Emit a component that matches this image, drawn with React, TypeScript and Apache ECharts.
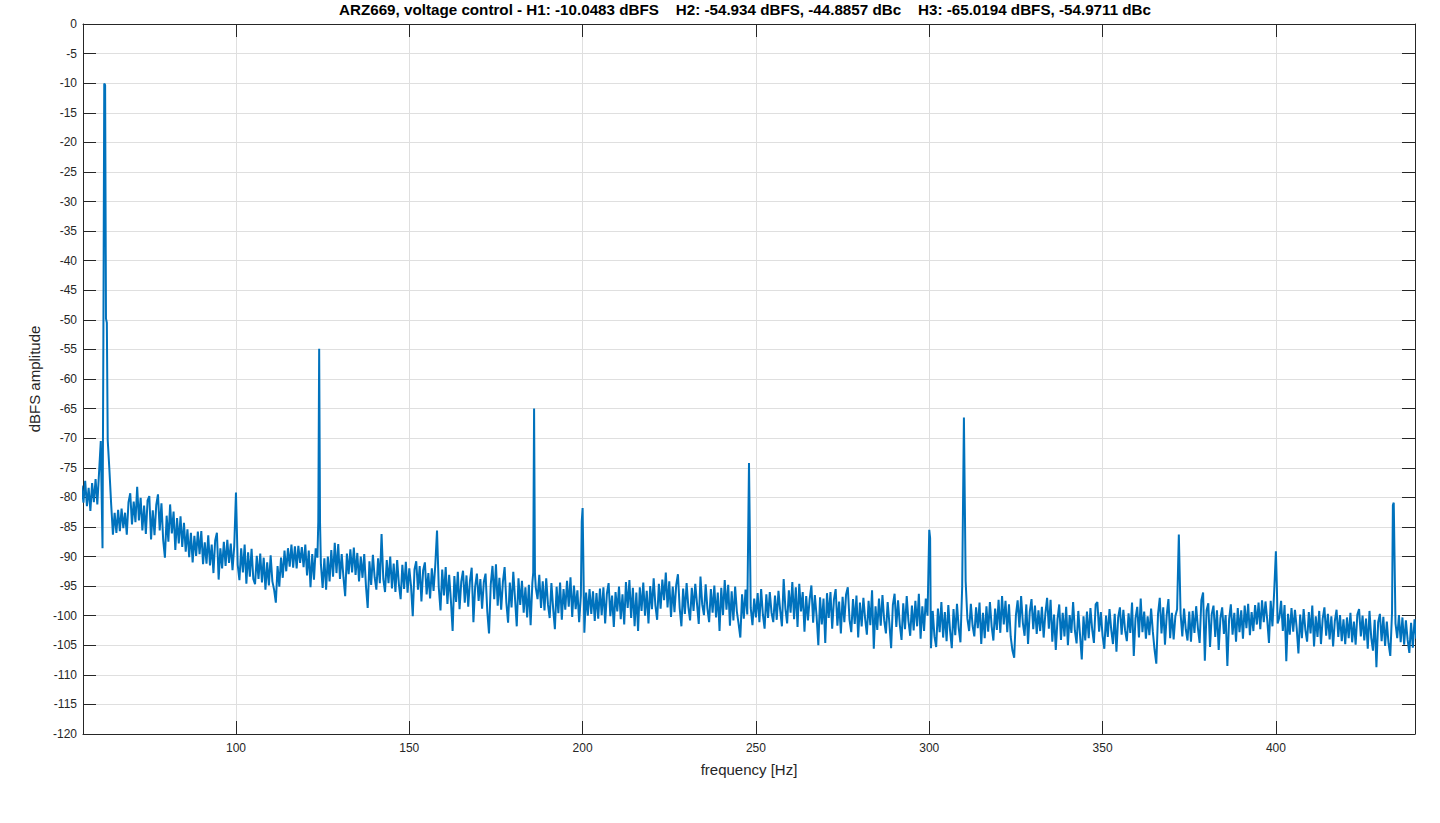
import { useEffect, useRef } from "react";
import * as echarts from "echarts";

const TITLE =
  "ARZ669, voltage control - H1: -10.0483 dBFS\u00a0\u00a0\u00a0\u00a0H2: -54.934 dBFS, -44.8857 dBc\u00a0\u00a0\u00a0\u00a0H3: -65.0194 dBFS, -54.9711 dBc";
const X_LABEL = "frequency [Hz]";
const Y_LABEL = "dBFS amplitude";

const FREQ_MIN = 55.87;
const FREQ_MAX = 440.13;
const DB_MIN = -120;
const DB_MAX = 0;
const DB_STEP = 5;
const xTickValues = [100, 150, 200, 250, 300, 350, 400];

// Spectrum: each row covers 10 Hz in 0.5 Hz bins,
// row r starts at ROW_START + r * ROW_SPAN.
const ROW_START = 55.5;
const ROW_SPAN = 10;
const BIN = 0.5;
const spectrumRows: number[][] = [
  [-78.0, -80.9, -77.2, -81.5, -78.4, -82.3, -77.6, -80.8, -76.9, -81.2, -75.8, -70.5, -88.6, -10.05, -49.8, -70.3, -75.5, -81.2, -86.3, -82.6], // 55.5
  [-86.0, -82.1, -85.7, -81.9, -85.2, -82.6, -86.3, -80.8, -79.3, -84.6, -80.7, -84.2, -78.2, -83.9, -80.1, -85.6, -81.4, -86.2, -80.5, -79.8], // 65.5
  [-87.1, -82.2, -86.4, -81.3, -79.5, -85.6, -81.0, -87.2, -90.2, -83.1, -87.5, -81.2, -86.1, -82.4, -88.9, -83.5, -87.8, -83.2, -88.4, -84.3], // 75.5
  [-89.2, -85.4, -90.1, -86.0, -91.0, -86.5, -89.9, -85.8, -89.6, -85.7, -91.3, -87.6, -91.2, -86.4, -91.5, -88.0, -92.8, -87.3, -86.0, -93.9], // 85.5
  [-88.6, -92.0, -87.5, -91.6, -87.2, -91.1, -87.8, -92.3, -88.2, -79.2, -91.4, -94.0, -88.6, -92.7, -88.0, -94.6, -89.3, -93.4, -88.7, -93.8], // 95.5
  [-94.7, -89.9, -93.8, -89.5, -94.4, -90.2, -95.6, -91.0, -94.9, -89.8, -94.2, -95.6, -97.8, -91.6, -95.1, -90.2, -93.6, -89.0, -92.5, -88.6], // 105.5
  [-91.7, -88.0, -91.9, -88.3, -92.0, -88.2, -91.1, -88.4, -91.8, -88.0, -93.2, -89.0, -95.2, -89.6, -93.9, -88.6, -90.2, -54.9, -91.3, -95.3], // 115.5
  [-90.3, -95.6, -90.0, -94.2, -88.9, -93.4, -87.7, -92.8, -87.9, -93.8, -89.6, -93.5, -96.7, -89.5, -93.0, -88.8, -92.7, -88.5, -93.1, -89.4], // 125.5
  [-94.2, -90.0, -93.6, -89.6, -95.0, -98.7, -90.8, -94.8, -89.7, -93.5, -95.6, -90.3, -94.5, -86.2, -93.8, -96.0, -90.6, -94.5, -90.0, -95.4], // 135.5
  [-91.2, -96.0, -90.6, -94.7, -97.2, -91.4, -95.5, -90.9, -96.1, -92.0, -95.0, -100.1, -92.2, -90.8, -95.6, -91.6, -97.6, -92.3, -91.0, -96.4], // 145.5
  [-92.8, -97.1, -92.0, -95.8, -91.4, -85.6, -95.2, -99.1, -92.2, -96.6, -91.8, -98.0, -93.1, -97.4, -102.6, -93.3, -97.7, -92.6, -98.9, -94.2], // 155.5
  [-92.4, -97.8, -93.2, -98.5, -94.1, -91.9, -101.1, -95.1, -92.9, -97.5, -93.8, -98.8, -94.3, -92.9, -99.3, -103.0, -94.7, -91.6, -97.2, -91.3], // 165.5
  [-98.3, -93.6, -99.0, -94.3, -91.8, -97.8, -101.2, -94.4, -98.6, -92.6, -97.1, -101.8, -93.7, -98.2, -94.1, -99.5, -95.2, -100.3, -94.8, -101.6], // 175.5
  [-94.5, -65.0, -95.3, -97.2, -93.1, -98.7, -94.2, -99.1, -93.7, -98.1, -100.4, -94.5, -98.8, -102.3, -95.1, -99.6, -94.4, -100.7, -95.5, -99.0], // 185.5
  [-94.1, -98.5, -93.5, -100.2, -94.9, -98.9, -95.7, -101.1, -96.6, -81.8, -102.9, -96.1, -100.0, -95.5, -99.7, -95.9, -100.9, -96.2, -100.5, -95.4], // 195.5
  [-99.9, -95.2, -101.3, -96.3, -94.5, -100.1, -96.6, -101.9, -96.0, -99.3, -95.1, -100.6, -96.4, -101.5, -94.3, -98.7, -94.0, -100.4, -95.3, -101.8], // 205.5
  [-96.1, -102.6, -95.2, -99.2, -94.4, -100.0, -95.8, -101.3, -95.0, -98.9, -93.7, -98.3, -100.7, -94.6, -98.8, -93.9, -97.4, -92.7, -98.6, -94.2], // 215.5
  [-100.2, -95.1, -99.4, -94.8, -93.0, -98.7, -101.8, -95.4, -99.7, -94.5, -98.5, -100.8, -95.3, -99.2, -94.6, -98.0, -101.4, -93.4, -98.1, -99.9], // 225.5
  [-94.7, -98.8, -101.1, -95.5, -99.5, -94.9, -100.3, -96.1, -102.6, -95.3, -99.9, -94.0, -99.0, -94.8, -101.7, -95.9, -100.8, -95.1, -99.3, -101.4], // 235.5
  [-103.7, -96.4, -100.5, -95.6, -99.8, -74.2, -98.7, -101.6, -97.1, -100.3, -96.2, -101.1, -95.5, -99.8, -102.2, -96.4, -100.4, -96.0, -99.5, -101.1], // 245.5
  [-96.6, -100.7, -95.8, -99.1, -101.8, -93.8, -98.8, -101.3, -95.7, -99.5, -94.3, -100.6, -95.2, -101.9, -94.6, -99.3, -96.0, -102.7, -96.7, -100.8], // 255.5
  [-97.2, -94.9, -101.2, -96.5, -100.1, -105.0, -96.9, -101.5, -97.1, -104.6, -96.2, -100.4, -96.0, -102.2, -97.3, -95.5, -101.7, -97.6, -103.0, -96.8], // 265.5
  [-101.1, -96.4, -95.2, -100.7, -102.8, -97.2, -101.4, -96.6, -103.7, -97.8, -101.8, -97.0, -100.5, -103.2, -97.5, -101.6, -95.7, -105.6, -98.4, -102.4], // 275.5
  [-97.1, -101.7, -96.5, -100.8, -103.0, -97.7, -101.3, -105.5, -98.2, -96.3, -101.9, -97.4, -101.5, -104.1, -97.9, -102.3, -96.7, -100.9, -103.4, -98.3], // 285.5
  [-102.5, -97.5, -101.8, -96.3, -103.9, -98.4, -102.6, -97.1, -100.0, -85.5, -105.5, -99.2, -103.5, -105.3, -98.8, -102.8, -97.7, -103.7, -99.4, -104.3], // 295.5
  [-98.2, -102.5, -105.5, -98.9, -103.3, -98.0, -102.1, -104.5, -95.1, -66.5, -94.2, -100.5, -102.6, -98.0, -101.7, -103.5, -98.6, -102.1, -97.8, -104.8], // 305.5
  [-99.5, -103.8, -98.4, -102.7, -97.7, -101.8, -104.2, -98.8, -102.4, -97.3, -102.9, -96.7, -101.5, -97.5, -102.8, -98.1, -103.6, -105.9, -107.1, -99.9], // 315.5
  [-97.4, -102.0, -96.7, -101.2, -103.4, -98.1, -104.8, -99.3, -97.2, -102.3, -98.3, -103.1, -99.1, -102.6, -98.5, -103.7, -99.6, -97.0, -102.2, -97.3], // 325.5
  [-104.4, -99.8, -105.8, -100.6, -98.1, -104.1, -99.5, -103.5, -98.5, -105.0, -99.9, -102.9, -97.7, -102.5, -104.7, -99.2, -103.3, -107.4, -100.1, -104.2], // 335.5
  [-99.3, -103.8, -98.7, -102.3, -104.6, -98.1, -97.7, -102.7, -99.4, -103.4, -105.6, -100.0, -103.6, -98.9, -102.4, -104.8, -99.7, -106.1, -100.3, -98.6], // 345.5
  [-103.2, -99.0, -102.5, -104.3, -99.6, -102.9, -97.8, -106.8, -100.4, -98.5, -103.7, -97.1, -102.8, -99.3, -103.9, -100.1, -103.3, -98.8, -102.7, -105.8], // 355.5
  [-108.1, -99.7, -97.0, -103.0, -98.6, -104.9, -99.9, -97.2, -103.8, -99.5, -104.0, -100.1, -98.9, -86.3, -99.6, -103.5, -98.8, -102.3, -104.2, -99.3], // 365.5
  [-104.4, -99.2, -102.9, -98.4, -102.1, -104.6, -97.4, -96.1, -107.6, -99.1, -97.9, -105.3, -99.7, -98.3, -103.6, -99.1, -105.8, -100.4, -98.6, -103.1], // 375.5
  [-99.9, -108.5, -100.6, -98.1, -103.2, -99.5, -104.4, -98.7, -102.8, -99.1, -103.9, -98.3, -102.1, -98.0, -103.3, -99.4, -102.6, -98.2, -101.5, -97.8], // 385.5
  [-102.3, -97.4, -101.1, -97.6, -100.7, -104.6, -97.5, -101.8, -96.0, -89.1, -101.3, -100.3, -97.5, -102.6, -98.2, -107.7, -99.7, -103.2, -98.7, -102.7], // 395.5
  [-99.0, -102.1, -106.4, -99.8, -103.8, -98.9, -102.4, -104.4, -99.4, -103.0, -98.3, -105.2, -100.1, -103.6, -99.2, -104.8, -100.5, -98.6, -103.4, -99.7], // 405.5
  [-104.0, -100.1, -105.2, -100.9, -99.0, -103.6, -99.9, -104.3, -100.6, -104.8, -100.3, -103.8, -99.5, -104.5, -101.0, -104.9, -99.8, -98.9, -103.5, -100.0], // 415.5
  [-104.2, -100.5, -105.6, -99.2, -103.7, -105.9, -100.7, -108.7, -101.1, -99.7, -104.3, -100.2, -105.1, -101.0, -104.7, -106.8, -99.5, -80.9, -101.3, -103.8], // 425.5
  [-99.9, -104.5, -100.3, -104.9, -100.8, -104.1, -106.3, -101.2, -105.4, -100.6, -103.9], // 435.5
];

// Extra samples between bins around the tones (shoulders and double lines).
const peakDetail: [number, number][] = [
  [61.75, -53.1],
  [62.25, -10.3],
  [62.75, -50.5],
  [123.75, -84.0],
  [124.25, -84.3],
  [185.75, -92.7],
  [186.25, -92.9],
  [199.75, -84.1],
  [300.25, -86.9],
  [400.25, -94.4],
  [433.75, -81.3],
];

const FONT = "'Liberation Sans', Arial, Helvetica, sans-serif";
const AXIS_COLOR = "#262626";
const GRID_COLOR = "#dfdfdf";
const LINE_COLOR = "#0072BD";

function buildData(): [number, number][] {
  const out: [number, number][] = [];
  spectrumRows.forEach((row, r) => {
    row.forEach((v, j) => {
      out.push([ROW_START + r * ROW_SPAN + j * BIN, v]);
    });
  });
  peakDetail.forEach((p) => out.push([p[0], p[1]]));
  out.sort((a, b) => a[0] - b[0]);
  return out;
}

function buildOption(): echarts.EChartsOption {
  const labelStyle = { color: AXIS_COLOR, fontSize: 12, fontFamily: FONT };
  const axisLine = { show: true, onZero: false, lineStyle: { color: AXIS_COLOR, width: 1 } };
  return {
    animation: false,
    backgroundColor: "#ffffff",
    title: {
      text: TITLE,
      left: 745,
      top: 2,
      padding: 0,
      textAlign: "center",
      textStyle: { fontSize: 15.2, fontWeight: "bold", color: "#000000", fontFamily: FONT },
    },
    grid: { left: 83, right: 25, top: 24, bottom: 89, containLabel: false },
    xAxis: [
      {
        type: "value",
        position: "bottom",
        min: FREQ_MIN,
        max: FREQ_MAX,
        axisLine,
        axisTick: { show: true, inside: true, length: 13, customValues: xTickValues, lineStyle: { color: AXIS_COLOR } },
        axisLabel: { ...labelStyle, margin: 8, customValues: xTickValues },
        splitLine: { show: true, lineStyle: { color: GRID_COLOR, width: 1 } },
        name: X_LABEL,
        nameLocation: "middle",
        nameGap: 28,
        nameTextStyle: { color: AXIS_COLOR, fontSize: 15, fontFamily: FONT },
      },
      {
        type: "value",
        position: "top",
        min: FREQ_MIN,
        max: FREQ_MAX,
        axisLine,
        axisTick: { show: true, inside: true, length: 13, customValues: xTickValues, lineStyle: { color: AXIS_COLOR } },
        axisLabel: { show: false },
        splitLine: { show: false },
      },
    ],
    yAxis: [
      {
        type: "value",
        position: "left",
        min: DB_MIN,
        max: DB_MAX,
        interval: DB_STEP,
        axisLine,
        axisTick: { show: true, inside: true, length: 13, lineStyle: { color: AXIS_COLOR } },
        axisLabel: { ...labelStyle, margin: 6 },
        splitLine: { show: true, lineStyle: { color: GRID_COLOR, width: 1 } },
        name: Y_LABEL,
        nameLocation: "middle",
        nameGap: 35,
        nameRotate: 90,
        nameTextStyle: { color: AXIS_COLOR, fontSize: 15, fontFamily: FONT },
      },
      {
        type: "value",
        position: "right",
        min: DB_MIN,
        max: DB_MAX,
        interval: DB_STEP,
        axisLine,
        axisTick: { show: true, inside: true, length: 13, lineStyle: { color: AXIS_COLOR } },
        axisLabel: { show: false },
        splitLine: { show: false },
      },
    ],
    series: [
      {
        type: "line",
        xAxisIndex: 0,
        yAxisIndex: 0,
        data: buildData(),
        showSymbol: false,
        symbol: "none",
        clip: true,
        silent: true,
        lineStyle: { color: LINE_COLOR, width: 2 },
        itemStyle: { color: LINE_COLOR },
      },
    ],
  };
}

export default function App() {
  const ref = useRef<HTMLDivElement>(null);
  useEffect(() => {
    document.body.style.margin = "0";
    const chart = echarts.init(ref.current as HTMLDivElement, null, { renderer: "svg" });
    chart.setOption(buildOption());
    return () => chart.dispose();
  }, []);
  return <div ref={ref} style={{ width: 1440, height: 823 }} />;
}
